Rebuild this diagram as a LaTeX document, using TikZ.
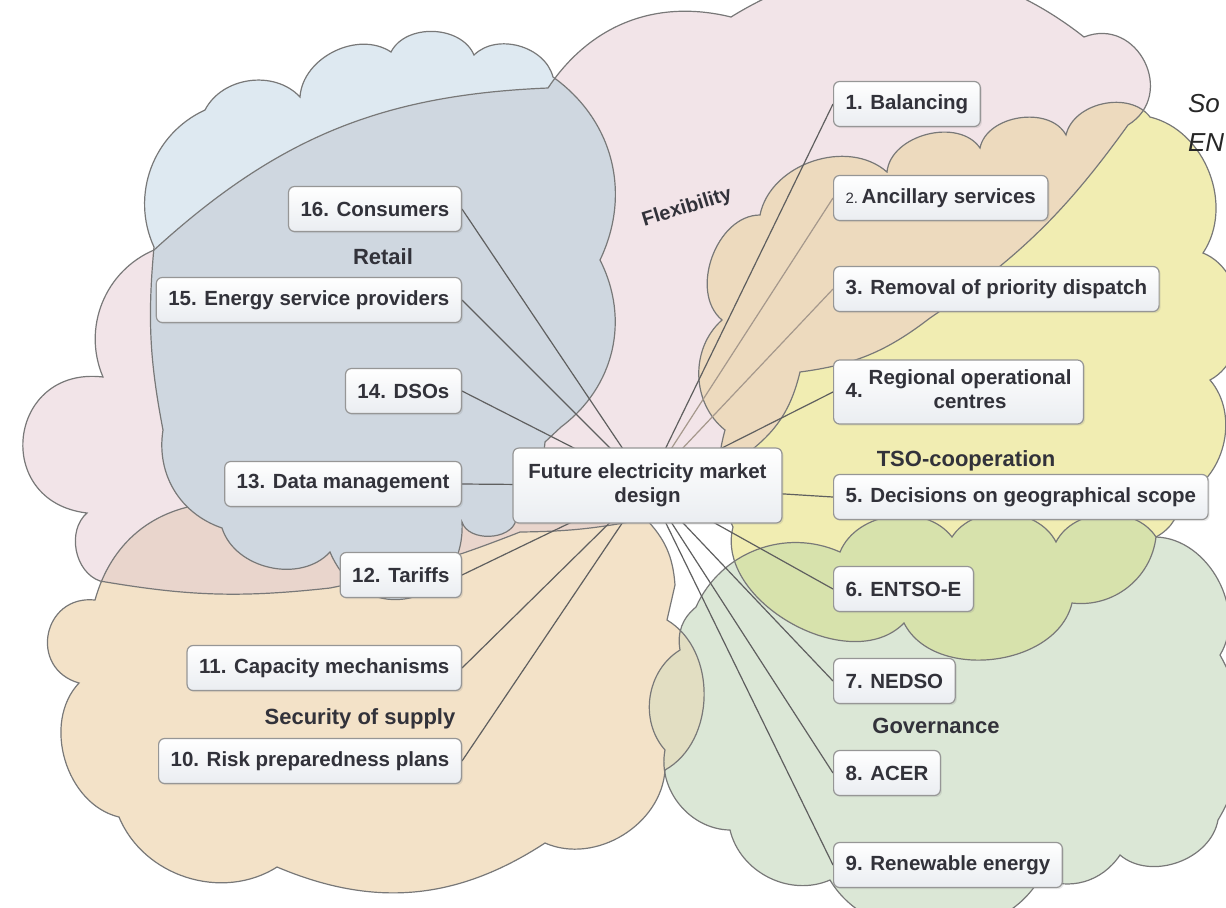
\documentclass[tikz,border=0pt]{standalone}
\usepackage{fontspec}
\setmainfont{Liberation Sans}
\usetikzlibrary{shadows}
\pgfdeclarelayer{clouds}
\pgfdeclarelayer{wires}
\pgfsetlayers{clouds,wires,main}

\definecolor{pinkF}{RGB}{242,228,232}
\definecolor{blueF}{RGB}{222,233,241}
\definecolor{pbF}{RGB}{207,215,224}
\definecolor{yellowF}{RGB}{241,237,178}
\definecolor{pyF}{RGB}{237,218,190}
\definecolor{orangeF}{RGB}{243,226,200}
\definecolor{poF}{RGB}{233,213,204}
\definecolor{greenF}{RGB}{219,231,214}
\definecolor{ygF}{RGB}{215,226,172}
\definecolor{ogF}{RGB}{226,222,194}
\definecolor{cloudc}{RGB}{120,120,120}
\definecolor{wirec}{RGB}{95,95,95}
\definecolor{wirelt}{RGB}{165,152,140}
\definecolor{boxline}{RGB}{150,150,150}
\definecolor{boxbot}{RGB}{234,237,241}
\definecolor{txt}{RGB}{50,50,58}

\tikzset{
  box/.style={draw=boxline, line width=0.6pt, rounded corners=3pt,
    top color=white, bottom color=boxbot, minimum height=22.5pt,
    inner xsep=6pt, inner ysep=2pt,
    font=\fontsize{10.25}{12}\selectfont\bfseries, text=txt,
    drop shadow={shadow xshift=0.8pt, shadow yshift=-0.8pt, opacity=0.18}},
  rbox/.style={box, anchor=west},
  lbox/.style={box, anchor=east},
  wire/.style={draw=wirec, line width=0.6pt},
  wirelight/.style={draw=wirelt, line width=0.6pt},
  grp/.style={font=\fontsize{11}{13}\selectfont\bfseries, text=txt},
  srcnote/.style={anchor=base west, font=\fontsize{13}{15}\selectfont\itshape, text=black!85},
  cl/.style={draw=cloudc, line width=0.6pt},
}

\def\cPink{(100,-581) to[bend left=60] (87,-513) to[bend left=90,looseness=1.8] (103,-377) to[bend left=45] (154,-250) to[bend left=20] (548,-88) to[bend left=35] (731,-17) to[bend left=35] (1084,-37) to[bend left=85,looseness=1.5] (1128,-125) to[bend left=10] (930,-318) to[bend left=15] (800,-372) to[bend left=20] (745,-455) to[bend left=10] (640,-520) to[bend left=5] (520,-532) to[bend left=5] (330,-588) to[bend left=8] (100,-581) -- cycle}
\def\cBlue{(154,-247) to[bend left=45] (205,-110) to[bend left=55] (300,-97) to[bend left=60] (391,-52) to[bend left=65] (474,-55) to[bend left=60] (553,-77) to[bend left=40] (600,-260) to[bend left=40] (561,-427) -- (545,-442) to[bend left=15] (516,-520) to[bend left=75] (462,-522) to[bend left=80,looseness=1.6] (330,-552) to[bend left=60] (222,-528) to[bend left=40] (163,-430) to[bend left=8] (154,-247) -- cycle}
\def\cYellow{(733,-527) to[bend left=20] (725,-430) to[bend left=50] (722,-320) to[bend left=70] (760,-215) to[bend left=60] (887,-172) to[bend left=70] (980,-148) to[bend left=70] (1066,-135) to[bend left=65] (1150,-117) to[bend left=55] (1203,-253) to[bend left=65] (1210,-380) to[bend left=55] (1180,-497) to[bend left=30] (1156,-537) to[bend left=45] (1072,-603) to[bend left=70] (904,-623) to[bend left=75] (733,-527) -- cycle}
\def\cOrange{(79,-683) to[bend left=85,looseness=1.6] (95,-600) to[bend left=35] (213,-503) -- (300,-470) -- (520,-470) -- (600,-500) -- (645,-518) to[bend left=20] (675,-585) -- (667,-620) to[bend left=60] (665,-770) to[bend left=55] (545,-843) to[bend left=28] (277,-867) to[bend left=50] (119,-817) to[bend left=60] (79,-683) -- cycle}
\def\cGreen{(696,-607) to[bend left=45] (840,-552) to[bend left=60] (952,-537) to[bend left=60] (1056,-542) to[bend left=60] (1156,-537) to[bend left=60] (1220,-655) to[bend left=30] (1218,-820) to[bend left=60] (1120,-855) to[bend left=40] (1040,-878) to[bend left=60] (830,-880) to[bend left=50] (730,-830) to[bend left=50] (665,-750) to[bend left=50] (680,-650) to[bend left=30] (696,-607) -- cycle}

\begin{document}
\begin{tikzpicture}[x=0.5pt,y=0.5pt]
\useasboundingbox (0,0) rectangle (1226,-907);

% ---------- boxes ----------
\node[box, minimum width=134.5pt, minimum height=37.5pt, align=center] (c) at (647.5,-485.5) {Future electricity market\\design};

\node[rbox] (b1) at (833,-104) {1. Balancing};
\node[rbox] (b2) at (833,-198) {{\fontsize{7.5}{9}\selectfont\mdseries 2.}\,Ancillary services};
\node[rbox] (b3) at (833,-289) {3. Removal of priority dispatch};
\node[rbox, minimum height=32pt] (b4) at (833,-392) {\begin{tabular}{@{}l@{\hspace{3pt}}c@{}}4. & \begin{tabular}{@{}c@{}}Regional operational\\centres\end{tabular}\end{tabular}};
\node[rbox] (b5) at (833,-497) {5. Decisions on geographical scope};
\node[rbox] (b6) at (833,-589) {6. ENTSO-E};
\node[rbox] (b7) at (833,-681) {7. NEDSO};
\node[rbox] (b8) at (833,-773) {8. ACER};
\node[rbox] (b9) at (833,-865) {9. Renewable energy};

\node[lbox] (b16) at (462,-209) {16. Consumers};
\node[lbox] (b15) at (462,-300) {15. Energy service providers};
\node[lbox] (b14) at (462,-391) {14. DSOs};
\node[lbox] (b13) at (462,-484) {13. Data management};
\node[lbox] (b12) at (462,-575) {12. Tariffs};
\node[lbox] (b11) at (462,-668) {11. Capacity mechanisms};
\node[lbox] (b10) at (462,-761) {10. Risk preparedness plans};

% ---------- group labels ----------
\node[grp] (lretail) at (383,-257) {Retail};
\node[grp] (ltso) at (966,-461) {TSO-cooperation};
\node[grp] (lsec) at (360,-719) {Security of supply};
\node[grp] (lgov) at (936,-726) {Governance};
\node[grp, font=\fontsize{10}{12}\selectfont\bfseries, rotate=17] (lflex) at (687,-208) {Flexibility};

\node[srcnote] (src1) at (1181,-112) {So};
\node[srcnote] (src2) at (1181,-151) {EN};

% ---------- connectors ----------
\begin{pgfonlayer}{wires}
\draw[wire] (c.center) -- (b1.west);
\draw[wirelight] (c.center) -- (b2.west);
\draw[wirelight] (c.center) -- (b3.west);
\foreach \k in {4,5,6,7,8,9} {\draw[wire] (c.center) -- (b\k.west);}
\foreach \k in {10,11,12,13,14,15,16} {\draw[wire] (c.center) -- (b\k.east);}
\end{pgfonlayer}

% ---------- clouds ----------
\begin{pgfonlayer}{clouds}
\begin{scope}
\clip (0,0) rectangle (1226,-907);
\fill[pinkF] \cPink;
\fill[orangeF] \cOrange;
\fill[yellowF] \cYellow;
\fill[greenF] \cGreen;
\begin{scope}\clip \cPink; \fill[poF] \cOrange; \fill[pyF] \cYellow; \end{scope}
\begin{scope}\clip \cGreen; \fill[ygF] \cYellow; \fill[ogF] \cOrange; \end{scope}
\draw[cl] \cPink;
\draw[cl] \cOrange;
\draw[cl] \cYellow;
\draw[cl] \cGreen;
\fill[blueF] \cBlue;
\begin{scope}\clip \cBlue; \fill[pbF] \cPink; \draw[cl] \cPink; \end{scope}
\draw[cl] \cBlue;
\end{scope}
\end{pgfonlayer}
\end{tikzpicture}
\end{document}
